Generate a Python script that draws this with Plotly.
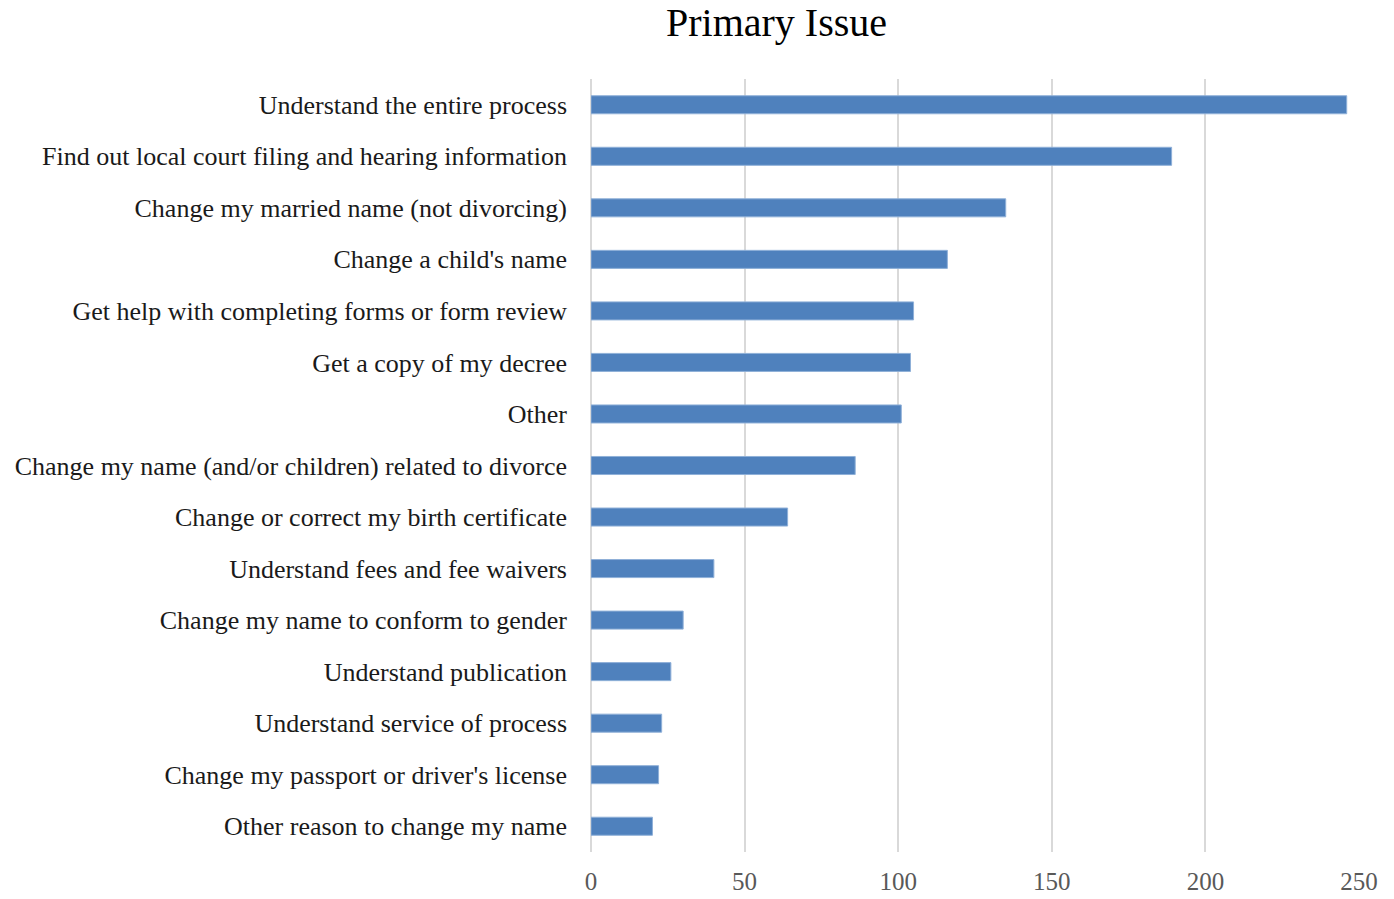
import plotly.graph_objects as go

categories = [
    "Understand the entire process",
    "Find out local court filing and hearing information",
    "Change my married name (not divorcing)",
    "Change a child's name",
    "Get help with completing forms or form review",
    "Get a copy of my decree",
    "Other",
    "Change my name (and/or children) related to divorce",
    "Change or correct my birth certificate",
    "Understand fees and fee waivers",
    "Change my name to conform to gender",
    "Understand publication",
    "Understand service of process",
    "Change my passport or driver's license",
    "Other reason to change my name",
]
counts = [246, 189, 135, 116, 105, 104, 101, 86, 64, 40, 30, 26, 23, 22, 20]
x_ticks = [0, 50, 100, 150, 200, 250]

FONT = "Liberation Serif, Times New Roman, serif"

fig = go.Figure(
    go.Bar(
        x=counts,
        y=categories,
        orientation="h",
        marker=dict(color="#4F81BD", line=dict(color="#8FB0D8", width=1)),
        hoverinfo="x+y",
    )
)

fig.update_layout(
    width=1394,
    height=899,
    margin=dict(l=591, r=35, t=79, b=47, autoexpand=False),
    paper_bgcolor="white",
    plot_bgcolor="white",
    bargap=0.65,
    showlegend=False,
    font=dict(family=FONT, color="#1a1a1a"),
    title=dict(
        text="Primary Issue",
        x=776.5 / 1394,
        xanchor="center",
        y=1 - 22 / 899,
        yanchor="middle",
        font=dict(family=FONT, size=40, color="black"),
    ),
)

fig.update_xaxes(
    range=[0, 250],
    tickvals=x_ticks,
    showgrid=True,
    gridcolor="#D9D9D9",
    gridwidth=2,
    zeroline=True,
    zerolinecolor="#D9D9D9",
    zerolinewidth=2,
    showline=False,
    ticks="",
    automargin=False,
    ticklabelstandoff=12,
    tickfont=dict(family=FONT, size=25, color="#595959"),
)

fig.update_yaxes(
    autorange="reversed",
    showgrid=False,
    showline=False,
    ticks="",
    automargin=False,
    ticklabelstandoff=23,
    tickfont=dict(family=FONT, size=26, color="#1a1a1a"),
)

fig.write_html("out.html")
